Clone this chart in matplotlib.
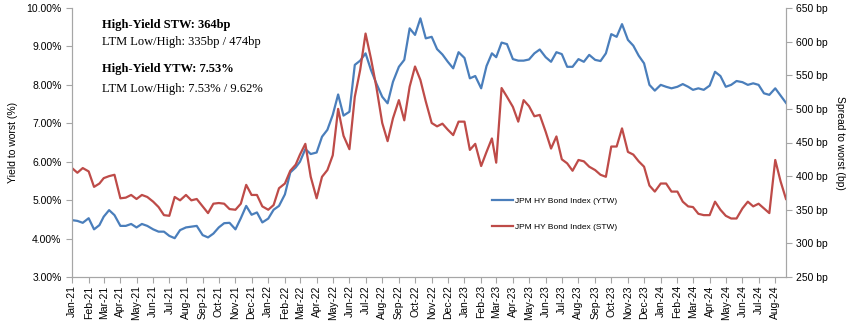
import numpy as np
import pandas as pd
import matplotlib
matplotlib.use('Agg')
import matplotlib.pyplot as plt
import matplotlib.dates as mdates
from matplotlib.ticker import FuncFormatter, MultipleLocator

plt.rcParams['font.family'] = ['Liberation Sans', 'DejaVu Sans']

# three readings per month (1st, 11th, 21st), Jan-21 .. Aug-24
months = pd.date_range('2021-01-01', '2024-08-01', freq='MS')
dates = [m + pd.Timedelta(days=d) for m in months for d in (0, 10, 20)]

# JPM HY Bond Index yield to worst (%)
ytw = [4.48, 4.46, 4.41,  4.53, 4.24, 4.35,  4.57, 4.74, 4.61,  4.33, 4.33, 4.38,
       4.29, 4.38, 4.33,  4.24, 4.18, 4.18,  4.07, 4.01, 4.22,  4.29, 4.31, 4.33,
       4.09, 4.03, 4.13,  4.29, 4.40, 4.41,  4.24, 4.53, 4.85,  4.62, 4.68, 4.42,
       4.52, 4.75, 4.85,  5.15, 5.72, 5.85,  6.00, 6.33, 6.20,  6.24, 6.65, 6.83,
       7.22, 7.75, 7.20,  7.30, 8.52, 8.63,  8.82, 8.39, 8.04,  7.69, 7.52, 8.08,
       8.47, 8.65, 9.47,  9.30, 9.73, 9.21,  9.25, 8.93, 8.79,  8.60, 8.43, 8.85,
       8.70, 8.17, 8.23,  7.91, 8.49, 8.82,  8.72, 9.10, 9.06,  8.67, 8.63, 8.63,
       8.66, 8.82, 8.92,  8.72, 8.60, 8.85,  8.80, 8.47, 8.47,  8.67, 8.60, 8.78,
       8.65, 8.62, 8.82,  9.32, 9.25, 9.58,  9.17, 9.02, 8.76,  8.56, 8.00, 7.85,
       8.00, 7.95, 7.91,  7.95, 8.02, 7.95,  7.87, 7.91, 7.87,  7.98, 8.34, 8.23,
       7.95, 8.00, 8.10,  8.07, 8.00, 8.04,  8.00, 7.78, 7.74,  7.91, 7.72, 7.53]

# JPM HY Bond Index spread to worst (bp)
stw = [412, 405, 412,  407, 384, 389,  397, 400, 402,  367, 368, 372,
       366, 372, 369,  362, 354, 342,  341, 369, 364,  372, 364, 366,
       355, 345, 359,  360, 359, 351,  350, 359, 387,  372, 372, 355,
       350, 357, 382,  389, 408, 417,  432, 448, 399,  367, 399, 409,
       431, 500, 460,  440, 518, 558,  612, 575, 533,  479, 452, 486,
       513, 483, 533,  563, 543, 511,  479, 474, 478,  469, 461, 481,
       481, 439, 448,  415, 436, 456,  420, 531, 518,  503, 481, 513,
       504, 489, 491,  466, 441, 459,  425, 419, 408,  424, 422, 414,
       409, 402, 399,  444, 444, 471,  436, 432, 422,  414, 386, 377,
       389, 389, 377,  377, 362, 355,  354, 344, 342,  342, 362, 350,
       341, 337, 337,  352, 362, 355,  359, 352, 345,  424, 392, 366]

notes = [('High-Yield STW: 364bp', 'bold', 25),
         ('LTM Low/High: 335bp / 474bp', 'normal', 42),
         ('High-Yield YTW: 7.53%', 'bold', 69),
         ('LTM Low/High: 7.53% / 9.62%', 'normal', 89)]

blue = '#4a7ebb'
red = '#be4b48'
grey = '#a6a6a6'

W, H = 852, 326
fig = plt.figure(figsize=(W / 100, H / 100), dpi=100)
ax = fig.add_axes([72 / W, 1 - 277 / H, (786 - 72) / W, (277 - 8) / H])
ax2 = ax.twinx()

l1, = ax.plot(dates, ytw, color=blue, lw=1.6, label='JPM HY Bond Index (YTW)')
l2, = ax2.plot(dates, stw, color=red, lw=1.6, label='JPM HY Bond Index (STW)')

ax.set_xlim(dates[0], dates[-1])
ax.set_ylim(3, 10)
ax2.set_ylim(250, 650)
ax.yaxis.set_major_locator(MultipleLocator(1))
ax2.yaxis.set_major_locator(MultipleLocator(50))
ax.yaxis.set_major_formatter(FuncFormatter(lambda v, p: f'{v:.2f}%'))
ax2.yaxis.set_major_formatter(FuncFormatter(lambda v, p: f'{v:.0f} bp'))
ax.xaxis.set_major_locator(mdates.MonthLocator())
ax.xaxis.set_major_formatter(mdates.DateFormatter('%b-%y'))

for a in (ax, ax2):
    a.spines['top'].set_visible(False)
    for s in a.spines.values():
        s.set_color(grey)
    a.tick_params(colors=grey, labelcolor='black', labelsize=7.5, length=4,
                  direction='out')
ax.tick_params(axis='x', labelrotation=90, pad=2)

ax.set_ylabel('Yield to worst (%)', fontsize=7.5, labelpad=6)
ax2.set_ylabel('Spread to worst (bp)', fontsize=7.5, rotation=270, labelpad=12)

for txt, weight, y in notes:
    fig.text(102 / W, 1 - y / H, txt, family='Liberation Serif', weight=weight,
             fontsize=9, va='center', ha='left')

ax2.legend([l1, l2], [l1.get_label(), l2.get_label()], loc='upper left',
           bbox_to_anchor=(492 / W, 1 - 197 / H), bbox_transform=fig.transFigure,
           frameon=False, fontsize=6, handlelength=2.5, handletextpad=0.3,
           labelspacing=2.2, borderpad=0, borderaxespad=0)

fig.savefig('out.png', dpi=100)
